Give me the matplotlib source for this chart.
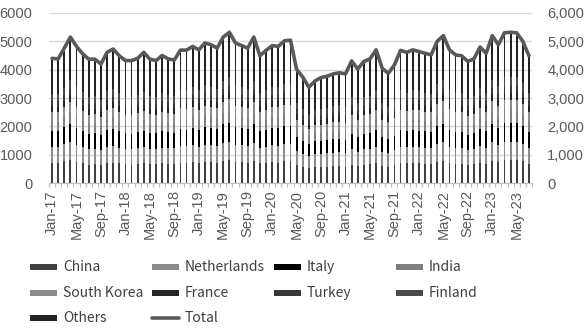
import matplotlib.pyplot as plt
import matplotlib.ticker as mticker
import numpy as np
from matplotlib.lines import Line2D
from matplotlib.patches import Rectangle

# monthly volumes, Jan-17 .. Jul-23
china = [700, 720, 760, 800, 740, 690, 650, 660, 640, 700, 720, 690,
         660, 650, 680, 700, 670, 660, 690, 680, 670, 720, 710, 730,
         700, 740, 730, 720, 780, 800, 740, 730, 720, 780, 690, 700,
         730, 720, 760, 760, 620, 560, 520, 560, 570, 580, 590, 600,
         580, 650, 610, 650, 660, 700, 610, 580, 630, 700, 690, 700,
         690, 680, 670, 750, 780, 700, 680, 680, 640, 660, 720, 680,
         780, 730, 800, 800, 800, 760, 680]
netherlands = [560, 540, 600, 640, 590, 570, 540, 550, 520, 580, 590, 560,
               540, 540, 550, 570, 540, 540, 560, 550, 550, 590, 580, 600,
               580, 610, 600, 590, 640, 660, 610, 600, 590, 640, 560, 580,
               600, 600, 620, 620, 500, 460, 420, 450, 460, 470, 480, 480,
               470, 540, 500, 540, 540, 580, 500, 480, 520, 580, 570, 580,
               570, 570, 560, 620, 650, 580, 560, 560, 530, 540, 600, 570,
               650, 610, 660, 660, 660, 630, 560]
italy = [560, 560, 600, 650, 610, 580, 550, 550, 530, 580, 600, 570,
         550, 550, 560, 580, 550, 550, 570, 560, 560, 600, 590, 610,
         590, 620, 610, 600, 650, 670, 620, 610, 600, 650, 570, 590,
         610, 610, 630, 630, 500, 470, 430, 460, 460, 470, 480, 490,
         480, 540, 500, 540, 550, 580, 510, 480, 520, 580, 570, 580,
         580, 570, 560, 630, 650, 590, 570, 570, 530, 550, 600, 570,
         650, 610, 660, 660, 660, 630, 560]
india = [350, 340, 370, 400, 380, 360, 340, 340, 330, 360, 370, 350,
         340, 340, 350, 360, 340, 340, 350, 350, 340, 370, 370, 380,
         370, 390, 380, 370, 400, 420, 390, 380, 370, 400, 350, 370,
         380, 380, 390, 390, 320, 290, 270, 290, 290, 300, 300, 310,
         300, 340, 320, 340, 350, 370, 320, 310, 330, 370, 360, 370,
         370, 360, 360, 400, 420, 380, 360, 360, 340, 350, 380, 360,
         420, 390, 420, 420, 420, 400, 360]
south_korea = [330, 330, 350, 380, 360, 340, 320, 320, 310, 340, 350, 330,
               320, 320, 330, 340, 320, 320, 330, 330, 320, 350, 350, 360,
               350, 370, 360, 350, 380, 400, 370, 360, 350, 380, 330, 350,
               360, 360, 370, 370, 300, 280, 260, 270, 280, 280, 290, 290,
               280, 320, 300, 320, 330, 350, 300, 290, 310, 350, 340, 350,
               350, 340, 340, 380, 390, 350, 340, 340, 320, 330, 360, 340,
               390, 370, 400, 400, 400, 380, 340]
france = [210, 200, 220, 240, 220, 210, 200, 200, 190, 210, 220, 210,
          200, 200, 200, 210, 200, 200, 210, 200, 200, 220, 220, 220,
          220, 230, 220, 220, 240, 250, 230, 220, 220, 240, 210, 220,
          220, 220, 230, 230, 190, 170, 160, 170, 170, 180, 180, 180,
          180, 200, 190, 200, 200, 220, 190, 180, 190, 220, 210, 220,
          220, 210, 210, 230, 240, 220, 210, 210, 200, 200, 220, 210,
          240, 230, 250, 250, 250, 230, 210]
turkey = [190, 190, 200, 220, 210, 200, 190, 190, 180, 200, 200, 190,
          190, 190, 190, 200, 190, 190, 190, 190, 190, 200, 200, 210,
          200, 210, 210, 200, 220, 230, 210, 210, 200, 220, 190, 200,
          210, 210, 210, 210, 170, 160, 150, 160, 160, 160, 170, 170,
          160, 180, 170, 180, 190, 200, 170, 160, 180, 200, 190, 200,
          200, 190, 190, 210, 220, 200, 190, 190, 180, 190, 200, 190,
          220, 210, 230, 230, 230, 210, 190]
finland = [250, 250, 270, 290, 270, 260, 250, 250, 240, 260, 270, 260,
           250, 250, 250, 260, 250, 250, 260, 250, 250, 270, 270, 270,
           270, 280, 280, 270, 290, 300, 280, 280, 270, 290, 260, 270,
           280, 280, 290, 290, 230, 220, 200, 210, 210, 220, 220, 220,
           220, 250, 230, 250, 250, 270, 230, 220, 240, 270, 260, 270,
           260, 260, 260, 290, 300, 270, 260, 260, 240, 250, 280, 260,
           300, 280, 310, 310, 310, 290, 260]
others = [1250, 1250, 1390, 1530, 1440, 1350, 1330, 1310, 1260, 1380, 1410, 1330,
          1270, 1280, 1290, 1390, 1310, 1270, 1340, 1270, 1260, 1370, 1400, 1440,
          1420, 1490, 1490, 1440, 1550, 1590, 1490, 1460, 1440, 1550, 1330, 1400,
          1460, 1440, 1520, 1540, 1180, 1130, 970, 1030, 1120, 1110, 1140, 1150,
          1180, 1290, 1200, 1270, 1310, 1430, 1220, 1170, 1250, 1410, 1420, 1430,
          1400, 1400, 1370, 1490, 1550, 1410, 1350, 1320, 1310, 1310, 1440, 1400,
          1550, 1450, 1570, 1590, 1570, 1470, 1330]
total = [4400, 4380, 4760, 5150, 4820, 4560, 4370, 4370, 4200, 4610, 4730, 4490,
         4320, 4320, 4400, 4610, 4370, 4320, 4500, 4380, 4340, 4690, 4690, 4820,
         4700, 4940, 4880, 4760, 5150, 5320, 4940, 4850, 4760, 5150, 4490, 4680,
         4850, 4820, 5020, 5040, 4010, 3740, 3380, 3600, 3720, 3770, 3850, 3890,
         3850, 4310, 4020, 4290, 4380, 4700, 4050, 3870, 4170, 4680, 4610, 4700,
         4640, 4580, 4520, 5000, 5200, 4700, 4520, 4490, 4290, 4380, 4800, 4580,
         5200, 4880, 5300, 5320, 5300, 5000, 4490]

tick_labels = ["Jan-17", "May-17", "Sep-17", "Jan-18", "May-18", "Sep-18",
               "Jan-19", "May-19", "Sep-19", "Jan-20", "May-20", "Sep-20",
               "Jan-21", "May-21", "Sep-21", "Jan-22", "May-22", "Sep-22",
               "Jan-23", "May-23"]

names = ["China", "Netherlands", "Italy", "India", "South Korea",
         "France", "Turkey", "Finland", "Others"]
stack = [china, netherlands, italy, india, south_korea,
         france, turkey, finland, others]
colors = ["#404040", "#8c8c8c", "#000000", "#7f7f7f", "#8c8c8c",
          "#262626", "#383838", "#4a4a4a", "#222222"]
line_color = "#595959"
text_color = "#595959"

plt.rcParams["font.family"] = ["Liberation Sans", "DejaVu Sans"]

W, H = 587, 334
fig = plt.figure(figsize=(W / 100, H / 100), dpi=100)
left, right, top, bottom_px = 49, 532, 13, 183
ax = fig.add_axes([left / W, 1 - bottom_px / H, (right - left) / W, (bottom_px - top) / H])

x = np.arange(len(total))
base = np.zeros(len(total))
for vals, col in zip(stack, colors):
    vals = np.array(vals, dtype=float)
    ax.bar(x, vals, width=0.3, bottom=base, color=col, linewidth=0, zorder=2)
    base += vals

ax.set_xlim(-0.5, len(total) - 0.5)
ax.set_ylim(0, 6000)
ax.set_yticks(np.arange(0, 6001, 1000))
ax.yaxis.grid(True, color="#d9d9d9", linewidth=1.0, zorder=0)
ax.set_axisbelow(True)
for s in ["top", "right", "left"]:
    ax.spines[s].set_visible(False)
ax.spines["bottom"].set_color("#bfbfbf")
ax.spines["bottom"].set_zorder(3)

ax.set_xticks(np.arange(0, len(total), 4))
ax.set_xticklabels(tick_labels, rotation=90)
ax.set_xticks(np.arange(-0.5, len(total), 1), minor=True)
ax.tick_params(axis="x", which="major", length=0, pad=5, labelsize=10.5,
               labelcolor=text_color)
ax.tick_params(axis="x", which="minor", length=3, color="#bfbfbf", width=0.8)
ax.tick_params(axis="y", length=0, pad=12, labelsize=10.5, labelcolor=text_color)

ax2 = ax.twinx()
ax2.plot(x, total, color=line_color, linewidth=2.6, solid_joinstyle="round",
         solid_capstyle="round", zorder=4)
ax2.set_ylim(0, 6000)
ax2.set_yticks(np.arange(0, 6001, 1000))
ax2.yaxis.set_major_formatter(mticker.StrMethodFormatter("{x:,.0f}"))
ax2.tick_params(axis="y", length=0, pad=11, labelsize=10.5, labelcolor=text_color)
for s in ax2.spines.values():
    s.set_visible(False)

# legend laid out row by row in four equal columns
legend_font = ["Noto Sans CJK SC", "DejaVu Sans"]
col_x = [30, 152, 274, 396]
row_y = [267, 293, 318]
entries = list(zip(names, colors)) + [("Total", None)]
for i, (name, col) in enumerate(entries):
    hx = col_x[i % 4]
    hy = row_y[i // 4]
    if col is None:
        fig.add_artist(Line2D([hx / W, (hx + 27) / W], [1 - hy / H, 1 - hy / H],
                              transform=fig.transFigure, color=line_color,
                              linewidth=2.6, solid_capstyle="round"))
    else:
        fig.add_artist(Rectangle((hx / W, 1 - (hy + 3) / H), 27 / W, 6 / H,
                                 transform=fig.transFigure, facecolor=col,
                                 edgecolor="none"))
    fig.text((hx + 33) / W, 1 - hy / H, name, fontsize=10, color="#404040",
             family=legend_font, va="center", ha="left")

fig.savefig("out.png", dpi=100)
